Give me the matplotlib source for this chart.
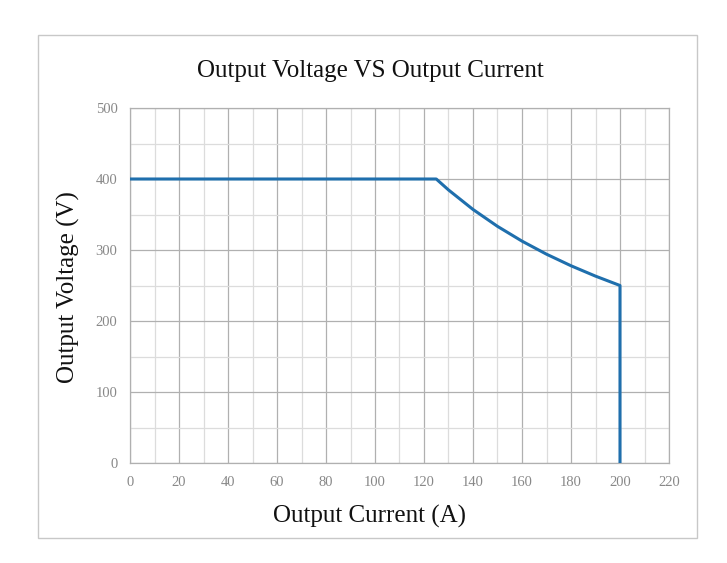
import matplotlib
matplotlib.use("Agg")
import matplotlib.pyplot as plt
from matplotlib.patches import Rectangle
from matplotlib.ticker import MultipleLocator

current = [0, 125, 130, 140, 150, 160, 170, 180, 190, 200, 200]
voltage = [400, 400, 384.6, 357.1, 333.3, 312.5, 294.1, 277.8, 263.2, 250, 0]
xticks = list(range(0, 221, 20))
yticks = list(range(0, 501, 100))

plt.rcParams['font.family'] = ['Liberation Serif', 'DejaVu Serif']

W, H = 727, 563
fig = plt.figure(figsize=(W/100, H/100), dpi=100)
fig.patches.append(Rectangle((38/W, 1-538/H), (697-38)/W, (538-35)/H,
                             transform=fig.transFigure, fill=False,
                             edgecolor='#c8c8c8', linewidth=1.0))
ax = fig.add_axes([130/W, 1-463/H, (669-130)/W, (463-108)/H])

ax.plot(current, voltage, color='#1f6fad', linewidth=2.2, zorder=3)

ax.set_xlim(0, 220)
ax.set_ylim(0, 500)
ax.set_xticks(xticks)
ax.set_yticks(yticks)
ax.xaxis.set_minor_locator(MultipleLocator(10))
ax.yaxis.set_minor_locator(MultipleLocator(50))
ax.grid(which='major', color='#b0b0b0', linewidth=0.9)
ax.grid(which='minor', color='#dcdcdc', linewidth=0.9)
ax.set_axisbelow(True)
for s in ax.spines.values():
    s.set_color('#b0b0b0')
    s.set_linewidth(0.9)
ax.tick_params(which='both', length=0, colors='#888888', labelsize=10.5)
ax.tick_params(axis='x', pad=9)
ax.tick_params(axis='y', pad=9)

fig.text(370/W, 1-71/H, 'Output Voltage VS Output Current', fontsize=18,
         ha='center', va='center', color='#111111')
fig.text(370/W, 1-516/H, 'Output Current (A)', fontsize=18,
         ha='center', va='center', color='#111111')
fig.text(68/W, 1-287/H, 'Output Voltage (V)', fontsize=18, rotation=90,
         ha='center', va='center', color='#111111')

fig.savefig('out.png', dpi=100)
